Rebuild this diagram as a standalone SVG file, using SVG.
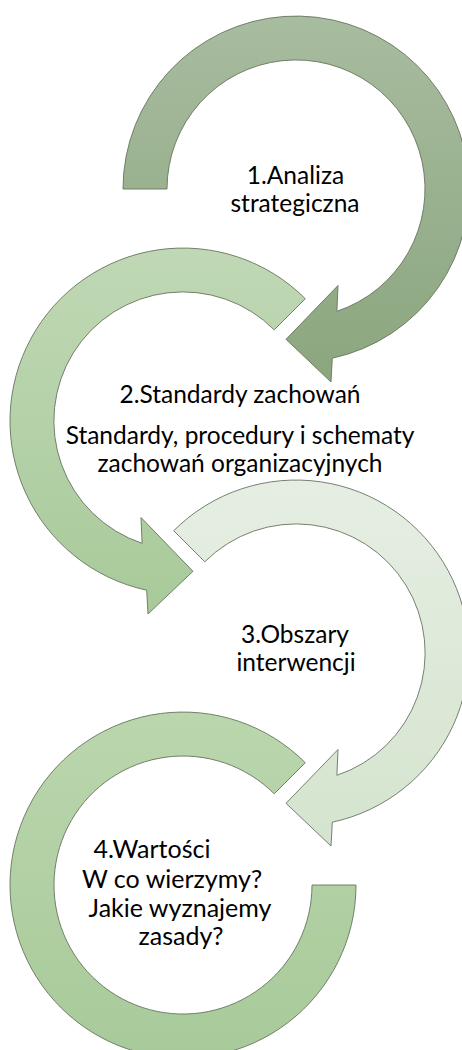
<svg xmlns="http://www.w3.org/2000/svg" width="462" height="1050" viewBox="0 0 462 1050">
  <defs>
    <linearGradient id="g1" x1="0" y1="0" x2="0" y2="1">
      <stop offset="0" stop-color="#a8bc9f"/>
      <stop offset="1" stop-color="#8ba67f"/>
    </linearGradient>
    <linearGradient id="g2" x1="0" y1="0" x2="0" y2="1">
      <stop offset="0" stop-color="#c0d8b5"/>
      <stop offset="1" stop-color="#a8ca9a"/>
    </linearGradient>
    <linearGradient id="g3" x1="0" y1="0" x2="0" y2="1">
      <stop offset="0" stop-color="#e6eee3"/>
      <stop offset="1" stop-color="#d4e4ce"/>
    </linearGradient>
    <linearGradient id="g4" x1="0" y1="0" x2="0" y2="1">
      <stop offset="0" stop-color="#bad6ad"/>
      <stop offset="1" stop-color="#a8ca9a"/>
    </linearGradient>
  </defs>
  <style>
    .arrow { stroke: #66745f; stroke-width: 0.9; stroke-linejoin: miter; }
    .lbl { font-family: Lato, "Liberation Sans", sans-serif; font-size: 24.5px; fill: #000; text-anchor: middle; }
    .lbl4 { font-size: 25px; }
  </style>

  <g id="node1">
    <path class="arrow" fill="url(#g1)" d="M123,189 A173,173 0 1 1 332.3,358.2 L331,382 L286,339.3 L338,285.5 L336.9,311.3 A129,129 0 1 0 167,189 Z"/>
    <text class="lbl" x="295.5" y="184">1.Analiza</text>
    <text class="lbl" x="295" y="211.7">strategiczna</text>
  </g>

  <g id="node2">
    <path class="arrow" fill="url(#g2)" d="M305.3,298.7 A173,173 0 1 0 146.7,590.2 L148,614 L193,571.3 L141,517.5 L142.1,543.3 A129,129 0 1 1 274.2,329.8 Z"/>
    <text class="lbl" x="240" y="403">2.Standardy zachowań</text>
    <text class="lbl" x="240" y="444">Standardy, procedury i schematy</text>
    <text class="lbl" x="240" y="472">zachowań organizacyjnych</text>
  </g>

  <g id="node3">
    <path class="arrow" fill="url(#g3)" d="M173.7,530.7 A173,173 0 1 1 332.3,822.2 L331,846 L286,803.3 L338,749.5 L336.9,775.3 A129,129 0 1 0 204.8,561.8 Z"/>
    <text class="lbl" x="295" y="643">3.Obszary</text>
    <text class="lbl" x="296" y="670.7">interwencji</text>
  </g>

  <g id="node4">
    <path class="arrow" fill="url(#g4)" d="M305.3,762.7 A173,173 0 1 0 356,885 L312,885 A129,129 0 1 1 274.2,793.8 Z"/>
    <text class="lbl lbl4" x="152" y="858.3">4.Wartości</text>
    <text class="lbl lbl4" x="172" y="888.3">W co wierzymy?</text>
    <text class="lbl lbl4" x="180" y="916.7">Jakie wyznajemy</text>
    <text class="lbl lbl4" x="181" y="945">zasady?</text>
  </g>

  <g id="connectors"></g>
</svg>
